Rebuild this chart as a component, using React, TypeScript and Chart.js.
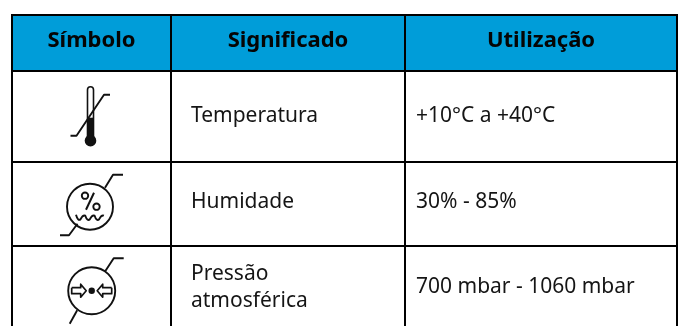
import React, { useEffect, useRef } from "react";
import { Chart, registerables } from "chart.js";

Chart.register(...registerables);

const headers = ["Símbolo", "Significado", "Utilização"];
const symbols = ["thermo", "humidity", "pressure"];
const meanings = [["Temperatura"], ["Humidade"], ["Pressão", "atmosférica"]];
const usages = ["+10°C a +40°C", "30% - 85%", "700 mbar - 1060 mbar"];

const columnEdges = [12, 171, 405, 677];
const rowEdges = [15, 71, 162, 246];
const axisEnd = 326;

const HEAD_COLOR = "#009DD9";
const INK = "#151515";
const BODY_FONT = '21px "Noto Sans"';
const HEAD_FONT = 'bold 22px "Noto Sans"';

function line(ctx: CanvasRenderingContext2D, pts: number[][], width = 1.9) {
  ctx.beginPath();
  pts.forEach(([x, y], i) => (i ? ctx.lineTo(x, y) : ctx.moveTo(x, y)));
  ctx.lineWidth = width;
  ctx.stroke();
}
function ring(ctx: CanvasRenderingContext2D, x: number, y: number, r: number, width = 1.9) {
  ctx.beginPath();
  ctx.arc(x, y, r, 0, Math.PI * 2);
  ctx.lineWidth = width;
  ctx.stroke();
}
function dot(ctx: CanvasRenderingContext2D, x: number, y: number, r: number) {
  ctx.beginPath();
  ctx.arc(x, y, r, 0, Math.PI * 2);
  ctx.fill();
}

const icons: Record<string, (c: CanvasRenderingContext2D, x: number, y: number) => void> = {
  thermo(c, x, y) {
    c.beginPath();
    c.moveTo(x - 3, y);
    c.lineTo(x - 3, y - 51);
    c.arc(x, y - 51, 3, Math.PI, 0);
    c.lineTo(x + 3, y);
    c.lineWidth = 1.6;
    c.stroke();
    c.fillRect(x - 3, y - 23, 6, 23);
    dot(c, x, y, 5.8);
    line(c, [[x - 20, y - 5], [x - 14, y - 5], [x + 13.5, y - 46], [x + 19.5, y - 46]]);
  },
  humidity(c, x, y) {
    ring(c, x, y, 23);
    line(c, [[x - 30, y + 28.5], [x - 21, y + 28.5], [x - 12.5, y + 17]]);
    line(c, [[x + 15, y - 19], [x + 23, y - 32], [x + 33, y - 32]]);
    ring(c, x - 5, y - 11, 3.2);
    ring(c, x + 6.5, y, 3.2);
    line(c, [[x - 4, y + 3], [x + 4, y - 14]], 2);
    c.beginPath();
    c.moveTo(x - 14, y + 8);
    for (let i = 0; i < 3; i++) {
      const sx = x - 14 + i * 9.3;
      c.quadraticCurveTo(sx + 2, y + 15, sx + 4.6, y + 12.5);
      c.quadraticCurveTo(sx + 6.8, y + 8, sx + 9.3, y + 9);
    }
    c.lineWidth = 1.9;
    c.stroke();
  },
  pressure(c, x, y) {
    ring(c, x, y, 23.5);
    line(c, [[x + 13.5, y - 19.5], [x + 22, y - 32.5], [x + 32, y - 32.5]]);
    line(c, [[x - 22, y + 33], [x - 14.5, y + 19.5]]);
    const arrow = (d: number) => {
      const pts = [
        [-20, -3], [-11, -3], [-11, -6.5], [-5.5, 0], [-11, 6.5], [-11, 3], [-20, 3], [-20, -3],
      ].map(([a, b]) => [x + d * a, y + b]);
      line(c, pts, 1.7);
    };
    arrow(1);
    arrow(-1);
    dot(c, x, y, 3.2);
  },
};
const iconAnchors = [[90.5, 140.7], [90, 206.7], [91.7, 290.7]];

const bodyLeft = [191, 416];
const rowBaselines = [[121.7], [208], [280, 306.7]];
const usageBaselines = [121.7, 208, 292.7];

const tablePlugin = {
  id: "table",
  beforeDraw(chart: any) {
    const { ctx, scales } = chart;
    const { x, y } = scales;
    ctx.save();
    ctx.fillStyle = "#fff";
    ctx.fillRect(0, 0, chart.width, chart.height);
    ctx.fillStyle = HEAD_COLOR;
    const l = x.getPixelForValue(columnEdges[0]);
    const r = x.getPixelForValue(columnEdges[3]);
    const t = y.getPixelForValue(rowEdges[0]);
    const b = y.getPixelForValue(rowEdges[1]);
    ctx.fillRect(l, t, r - l, b - t);
    ctx.restore();
  },
  afterDraw(chart: any) {
    const { ctx, scales } = chart;
    const { x, y } = scales;
    ctx.save();
    // square off the two top corners where the grid lines meet
    ctx.fillStyle = "#000";
    ctx.fillRect(x.getPixelForValue(columnEdges[0]) - 1, y.getPixelForValue(rowEdges[0]) - 1, 2, 2);
    ctx.fillRect(x.getPixelForValue(columnEdges[3]) - 1, y.getPixelForValue(rowEdges[0]) - 1, 2, 2);
    ctx.textBaseline = "alphabetic";
    ctx.fillStyle = "#050505";
    ctx.font = HEAD_FONT;
    ctx.textAlign = "center";
    headers.forEach((h, i) => {
      const cx = x.getPixelForValue((columnEdges[i] + columnEdges[i + 1]) / 2);
      ctx.fillText(h, cx, y.getPixelForValue(47));
    });
    ctx.textAlign = "left";
    ctx.fillStyle = INK;
    ctx.font = BODY_FONT;
    meanings.forEach((lines, r) => {
      lines.forEach((t, k) =>
        ctx.fillText(t, x.getPixelForValue(bodyLeft[0]), y.getPixelForValue(rowBaselines[r][k]))
      );
    });
    usages.forEach((t, r) =>
      ctx.fillText(t, x.getPixelForValue(bodyLeft[1]), y.getPixelForValue(usageBaselines[r]))
    );
    ctx.strokeStyle = "#111";
    ctx.fillStyle = "#111";
    ctx.lineJoin = "round";
    symbols.forEach((s, r) => {
      const [ax, ay] = iconAnchors[r];
      icons[s](ctx, x.getPixelForValue(ax), y.getPixelForValue(ay));
    });
    ctx.restore();
  },
};

export default function App() {
  const ref = useRef<HTMLCanvasElement>(null);
  useEffect(() => {
    document.body.style.margin = "0";
    const axisBase = {
      type: "linear" as const,
      border: { display: false },
      grid: { color: "#000", lineWidth: 2, drawTicks: false },
      ticks: { display: false },
    };
    const chart = new Chart(ref.current!, {
      type: "scatter",
      data: { datasets: [] },
      plugins: [tablePlugin],
      options: {
        animation: false,
        responsive: false,
        layout: { padding: { left: 12, right: 6, top: 15, bottom: 0 } },
        plugins: { legend: { display: false }, tooltip: { enabled: false } },
        scales: {
          x: {
            ...axisBase,
            min: columnEdges[0],
            max: columnEdges[3],
            afterBuildTicks: (a: any) => {
              a.ticks = columnEdges.map((value) => ({ value }));
            },
          },
          y: {
            ...axisBase,
            reverse: true,
            min: rowEdges[0],
            max: axisEnd,
            afterBuildTicks: (a: any) => {
              a.ticks = rowEdges.map((value) => ({ value }));
            },
          },
        },
      },
    } as any);
    return () => chart.destroy();
  }, []);
  return <canvas ref={ref} width={683} height={326} style={{ display: "block" }} />;
}
